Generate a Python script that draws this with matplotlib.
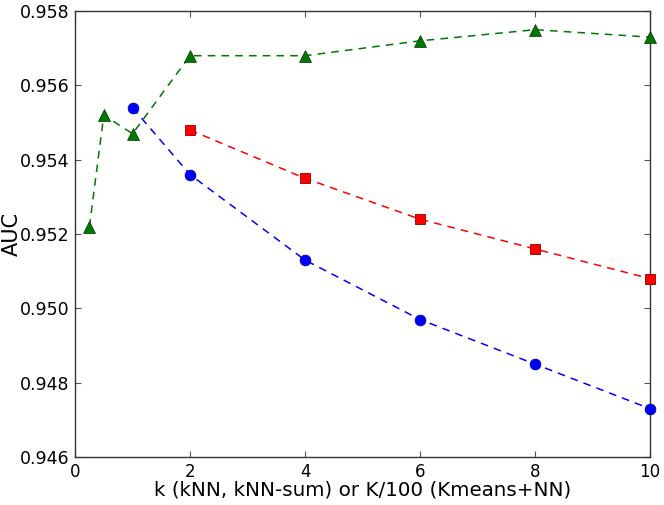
import matplotlib
matplotlib.use('Agg')
import matplotlib.pyplot as plt

# Data
k_knn = [1, 2, 4, 6, 8, 10]
auc_knn = [0.9554, 0.9536, 0.9513, 0.9497, 0.9485, 0.9473]

k_sum = [2, 4, 6, 8, 10]
auc_sum = [0.9548, 0.9535, 0.9524, 0.9516, 0.9508]

k_kmeans = [0.25, 0.5, 1, 2, 4, 6, 8, 10]
auc_kmeans = [0.9522, 0.9552, 0.9547, 0.9568, 0.9568, 0.9572, 0.9575, 0.9573]

x_ticks = [0, 2, 4, 6, 8, 10]
y_ticks = [0.946, 0.948, 0.950, 0.952, 0.954, 0.956, 0.958]

plt.rcParams.update({
    'font.family': 'DejaVu Sans',
    'font.size': 12,
    'figure.facecolor': 'white',
    'axes.facecolor': 'white',
    'axes.edgecolor': '#333333',
    'axes.linewidth': 1.0,
    'xtick.direction': 'in',
    'ytick.direction': 'in',
    'xtick.top': True,
    'ytick.right': True,
})

fig = plt.figure(figsize=(6.64, 5.05), dpi=100)
ax = fig.add_axes([0.113, 0.095, 0.866, 0.883])

dash = (5, 4)
ax.plot(k_knn, auc_knn, linestyle='--', dashes=dash, color='#0000ff', linewidth=1.1,
        marker='o', markersize=7.8, markeredgecolor='#00008a', markeredgewidth=0.5,
        clip_on=False, zorder=3)
ax.plot(k_sum, auc_sum, linestyle='--', dashes=dash, color='#ff0000', linewidth=1.1,
        marker='s', markersize=7.5, markeredgecolor='#8a0000', markeredgewidth=0.6,
        clip_on=False, zorder=3)
ax.plot(k_kmeans, auc_kmeans, linestyle='--', dashes=dash, color='#007800', linewidth=1.1,
        marker='^', markersize=8, markeredgecolor='#003300', markeredgewidth=0.5,
        clip_on=False, zorder=3)

ax.set_xlim(0, 10)
ax.set_ylim(0.946, 0.958)
ax.set_xticks(x_ticks)
ax.set_yticks(y_ticks)
ax.set_xticklabels([str(t) for t in x_ticks], fontsize=12)
ax.set_yticklabels(['%.3f' % t for t in y_ticks], fontsize=12.5)
ax.tick_params(length=4, width=0.8, color='#555555', pad=4)

ax.set_xlabel('k (kNN, kNN-sum) or K/100 (Kmeans+NN)', fontsize=14.3, labelpad=0)
ax.set_ylabel('AUC', fontsize=15)
ax.yaxis.set_label_coords(-0.092, 0.5)

fig.savefig('out.png', dpi=100, facecolor='white')
